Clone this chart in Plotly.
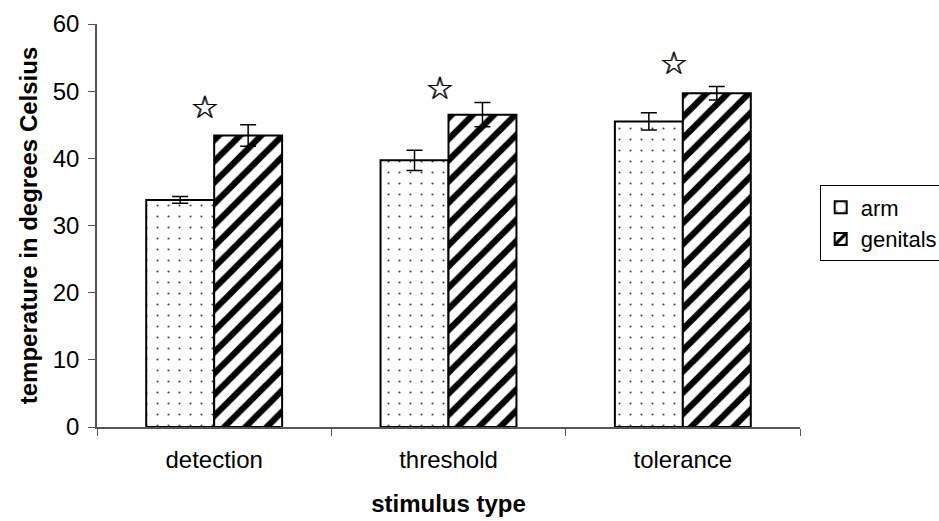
import plotly.graph_objects as go

categories = ["detection", "threshold", "tolerance"]
arm_values = [33.8, 39.7, 45.5]
arm_errors = [0.5, 1.5, 1.3]
genitals_values = [43.4, 46.5, 49.7]
genitals_errors = [1.6, 1.8, 1.0]
star_values = [47.6, 50.4, 54.2]
y_ticks = [0, 10, 20, 30, 40, 50, 60]

fig = go.Figure()
fig.add_trace(go.Bar(
    name="arm", x=categories, y=arm_values,
    marker=dict(color="white", line=dict(color="black", width=2),
                pattern=dict(shape=".", size=11, solidity=0.03, fgcolor="#444444",
                             fgopacity=1, bgcolor="white")),
    error_y=dict(type="data", array=arm_errors, color="black", thickness=1.5, width=8),
))
fig.add_trace(go.Bar(
    name="genitals", x=categories, y=genitals_values,
    marker=dict(color="white", line=dict(color="black", width=2),
                pattern=dict(shape="/", size=15, solidity=0.42, fgcolor="black",
                             fgopacity=1, bgcolor="white")),
    error_y=dict(type="data", array=genitals_errors, color="black", thickness=1.5, width=8),
))

for c, s in zip(categories, star_values):
    for dx in (-9.5, -8.5):
        fig.add_annotation(x=c, y=s, text="<b>☆</b>", showarrow=False, xshift=dx,
                           font=dict(size=32, color="black", family="DejaVu Sans"))

fig.update_layout(
    width=939, height=521,
    margin=dict(l=97, r=139, t=24, b=94, autoexpand=False),
    paper_bgcolor="white", plot_bgcolor="white",
    barmode="group", bargap=0.42, bargroupgap=0,
    font=dict(family="Liberation Sans, Arial", size=24, color="black"),
    legend=dict(x=1.028, y=0.505, xanchor="left", yanchor="middle",
                bordercolor="black", borderwidth=1, font=dict(size=22),
                tracegroupgap=4),
    showlegend=True,
)
fig.update_xaxes(
    type="category", tickson="boundaries", ticks="outside", ticklen=7,
    tickcolor="#555555", showline=True, linecolor="#555555", linewidth=1.5,
    showgrid=False, ticklabelstandoff=10, tickfont=dict(size=24),
    title=dict(text="<b>stimulus type</b>", font=dict(size=24), standoff=24),
)
fig.update_yaxes(
    range=[0, 60], tickvals=y_ticks, ticks="outside", ticklen=7,
    tickcolor="#555555", showline=True, linecolor="#555555", linewidth=1.5,
    showgrid=False, zeroline=False, ticklabelstandoff=4, tickfont=dict(size=24),
    title=dict(text="<b>temperature in degrees Celsius</b>", font=dict(size=24), standoff=8),
)

fig.write_html("out.html")
